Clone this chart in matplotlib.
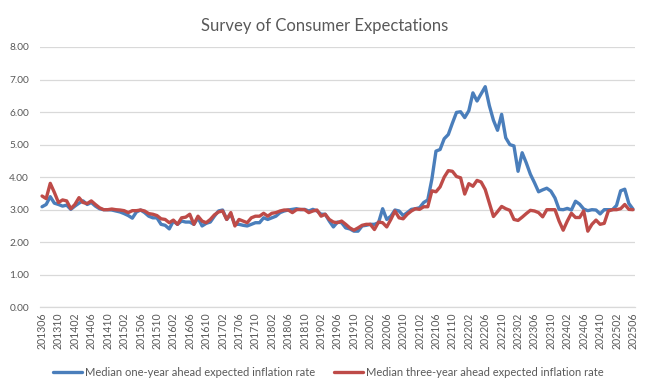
import matplotlib
matplotlib.use('Agg')
import matplotlib.pyplot as plt
import numpy as np

# Monthly categories 201306 .. 202506
months = []
for k in range(145):
    yy = 2013 + (5 + k) // 12
    mm = (5 + k) % 12 + 1
    months.append(f"{yy}{mm:02d}")

one_year = [
    3.09, 3.16, 3.40, 3.20, 3.16, 3.11, 3.14, 3.01, 3.11, 3.20, 3.27, 3.16,
    3.22, 3.11, 3.03, 3.00, 3.00, 2.99, 2.96, 2.93, 2.88, 2.82, 2.74, 2.93,
    2.99, 2.91, 2.80, 2.75, 2.75, 2.55, 2.52, 2.41, 2.65, 2.55, 2.65, 2.62,
    2.62, 2.55, 2.75, 2.50, 2.58, 2.62, 2.80, 2.96, 2.99, 2.70, 2.86, 2.55,
    2.55, 2.52, 2.50, 2.55, 2.60, 2.60, 2.75, 2.70, 2.75, 2.80, 2.91, 2.96,
    2.99, 3.01, 3.03, 3.00, 3.01, 2.96, 3.01, 2.96, 2.86, 2.86, 2.65, 2.47,
    2.62, 2.60, 2.44, 2.41, 2.34, 2.34, 2.50, 2.52, 2.55, 2.55, 2.60, 3.03,
    2.70, 2.80, 2.99, 2.96, 2.82, 2.91, 3.01, 3.03, 3.06, 3.22, 3.30, 3.94,
    4.80, 4.85, 5.18, 5.31, 5.66, 5.99, 6.01, 5.83, 6.04, 6.59, 6.34, 6.56,
    6.78, 6.20, 5.75, 5.44, 5.93, 5.21, 5.00, 4.96, 4.18, 4.75, 4.44, 4.09,
    3.83, 3.55, 3.61, 3.66, 3.57, 3.36, 3.01, 3.00, 3.04, 2.99, 3.26, 3.17,
    3.02, 2.97, 3.00, 2.99, 2.87, 3.00, 3.00, 3.00, 3.13, 3.58, 3.63, 3.19,
    3.02,
]

three_year = [
    3.42, 3.34, 3.81, 3.53, 3.22, 3.30, 3.27, 3.03, 3.16, 3.37, 3.22, 3.19,
    3.27, 3.16, 3.06, 3.00, 3.00, 3.02, 3.00, 2.99, 2.97, 2.91, 2.97, 2.97,
    2.99, 2.96, 2.88, 2.86, 2.82, 2.72, 2.70, 2.60, 2.68, 2.55, 2.75, 2.77,
    2.86, 2.55, 2.80, 2.65, 2.60, 2.70, 2.84, 2.93, 2.96, 2.70, 2.91, 2.50,
    2.70, 2.65, 2.60, 2.75, 2.80, 2.80, 2.89, 2.80, 2.89, 2.91, 2.96, 2.99,
    2.99, 2.91, 3.00, 3.01, 3.00, 2.91, 2.96, 2.99, 2.80, 2.86, 2.70, 2.62,
    2.60, 2.65, 2.55, 2.44, 2.37, 2.44, 2.52, 2.55, 2.55, 2.39, 2.62, 2.60,
    2.47, 2.70, 2.96, 2.75, 2.72, 2.86, 2.96, 3.03, 3.01, 3.09, 3.09, 3.58,
    3.55, 3.70, 4.00, 4.20, 4.18, 4.02, 3.98, 3.48, 3.80, 3.72, 3.90, 3.85,
    3.62, 3.21, 2.79, 2.94, 3.10, 3.03, 2.98, 2.70, 2.67, 2.77, 2.88, 2.98,
    2.96, 2.91, 2.78, 3.00, 3.00, 3.00, 2.65, 2.37, 2.65, 2.89, 2.76, 2.76,
    2.96, 2.34, 2.55, 2.68, 2.55, 2.58, 2.96, 3.00, 3.00, 3.03, 3.16, 3.01,
    3.00,
]

series_names = ["Median one-year ahead expected inflation rate",
                "Median three-year ahead expected inflation rate"]
title = "Survey of Consumer Expectations"

plt.rcParams['font.family'] = ['Lato', 'DejaVu Sans']
txt = '#595959'

fig = plt.figure(figsize=(6.5, 3.9), dpi=100)
ax = fig.add_axes([40/650, 1-307.3/390, 595/650, (307.3-47)/390])

x = np.arange(len(months))
l1, = ax.plot(x, one_year, color='#4A7EBB', lw=2.4, solid_joinstyle='round', solid_capstyle='round')
l2, = ax.plot(x, three_year, color='#BE4B48', lw=2.4, solid_joinstyle='round', solid_capstyle='round')

ax.set_xlim(-0.5, len(months) - 0.5)
ax.set_ylim(0, 8)
ax.set_yticks(np.arange(0, 8.01, 1))
ax.set_yticklabels([f"{v:.2f}" for v in np.arange(0, 8.01, 1)])
ax.set_xticks(x[::4])
ax.set_xticklabels(months[::4], rotation=90)

ax.grid(axis='y', color='#D9D9D9', lw=0.9)
ax.set_axisbelow(True)
for s in ['top', 'right', 'left']:
    ax.spines[s].set_visible(False)
ax.spines['bottom'].set_color('#D9D9D9')
ax.spines['bottom'].set_linewidth(0.9)
ax.tick_params(axis='y', length=0, pad=8, labelsize=7.3, labelcolor=txt)
ax.tick_params(axis='x', length=0, pad=4, labelsize=7.6, labelcolor=txt)

fig.text(0.5, 1 - 31/390, title, ha='center', va='baseline', fontsize=12, color=txt)

fig.legend([l1, l2], series_names, loc='center', bbox_to_anchor=(0.505, 1 - 372/390),
           ncol=2, frameon=False, fontsize=8, handlelength=2.6, handletextpad=0.3,
           columnspacing=1.7, labelcolor=txt)

fig.savefig('out.png', dpi=100)
